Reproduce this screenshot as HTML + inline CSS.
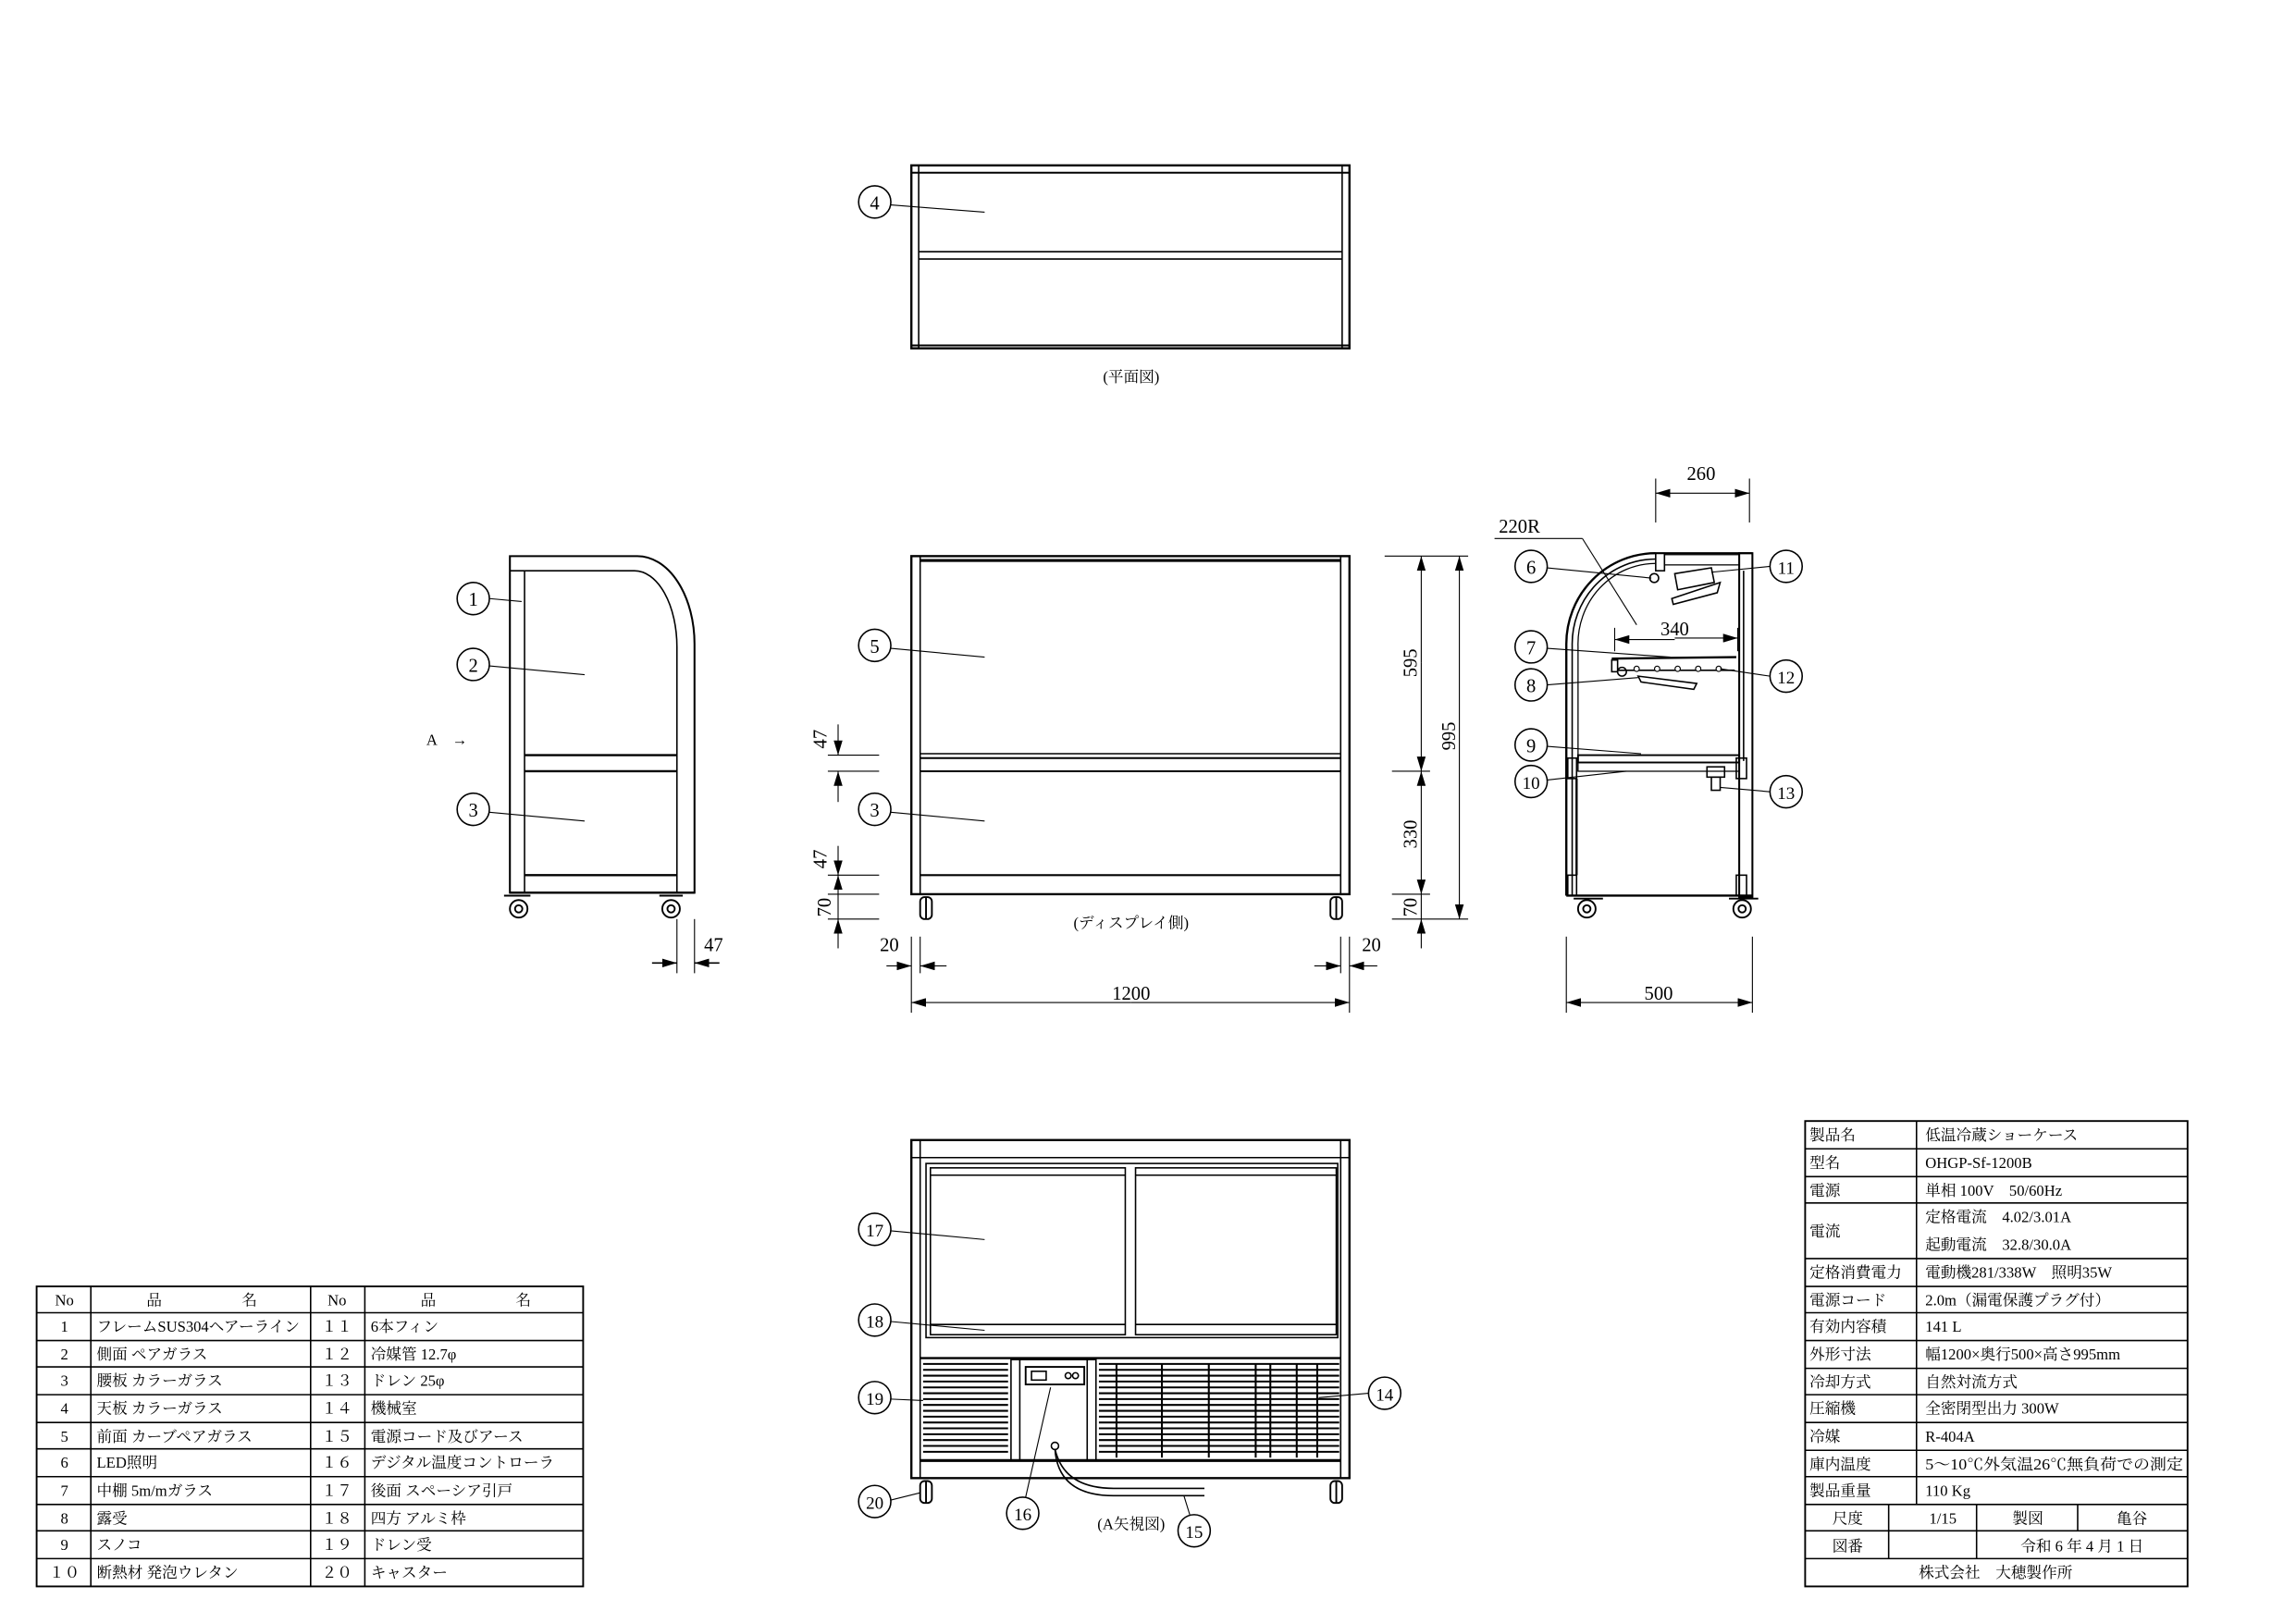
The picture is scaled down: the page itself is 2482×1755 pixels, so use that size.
<!DOCTYPE html>
<html><head><meta charset="utf-8"><style>
html,body{margin:0;padding:0;background:#fff}
svg{display:block}
text{font-family:"Liberation Serif","Noto Serif CJK JP",serif;fill:#000}
.t{font-size:10.5px}
.c{font-size:13px}
</style></head><body>
<svg width="2482" height="1755" viewBox="0 0 1567 1109" preserveAspectRatio="none" xmlns="http://www.w3.org/2000/svg">
<defs>
<marker id="a" viewBox="0 0 10 6" refX="10" refY="3" markerWidth="10" markerHeight="6" orient="auto-start-reverse" markerUnits="userSpaceOnUse"><path d="M0,0L10,3L0,6z" fill="#000"/></marker>
</defs>
<g fill="none" stroke="#000" stroke-width="1">
<!-- TOP VIEW -->
<rect x="622" y="113" width="299" height="125" stroke-width="1.5"/>
<line x1="622" y1="118" x2="921" y2="118" stroke-width="1.3"/>
<line x1="627" y1="113" x2="627" y2="238"/><line x1="916" y1="113" x2="916" y2="238"/>
<line x1="627" y1="172" x2="916" y2="172"/><line x1="627" y1="177" x2="916" y2="177"/>
<line x1="622" y1="236" x2="921" y2="236" stroke-width="1.3"/>
<circle cx="597" cy="138" r="11"/><line x1="608" y1="140" x2="672" y2="145" stroke-width=".7"/>

<!-- LEFT SIDE VIEW -->
<path d="M348,380 H435 A39,60 0 0 1 474,440 V610 H348 Z" stroke-width="1.3"/>
<path d="M358,390 H433 A29,52 0 0 1 462,442 V610" />
<line x1="358" y1="390" x2="358" y2="610"/>
<line x1="348" y1="390" x2="358" y2="390"/>
<line x1="358" y1="516" x2="462" y2="516" stroke-width="1.5"/>
<line x1="358" y1="527" x2="462" y2="527" stroke-width="1.5"/>
<line x1="358" y1="598" x2="462" y2="598" stroke-width="1.5"/>
<line x1="348" y1="610" x2="474" y2="610" stroke-width="1.5"/>
<circle cx="323" cy="409" r="11"/><line x1="334" y1="409" x2="356" y2="411" stroke-width=".7"/>
<circle cx="323" cy="454" r="11"/><line x1="334" y1="455" x2="399" y2="461" stroke-width=".7"/>
<circle cx="323" cy="553" r="11"/><line x1="334" y1="555" x2="399" y2="561" stroke-width=".7"/>
<line x1="462" y1="628" x2="462" y2="665" stroke-width=".7"/><line x1="474" y1="628" x2="474" y2="665" stroke-width=".7"/>
<line x1="445" y1="658" x2="462" y2="658" marker-end="url(#a)"/><line x1="491" y1="658" x2="474" y2="658" marker-end="url(#a)"/>

<!-- FRONT VIEW -->
<rect x="622" y="380" width="299" height="231" stroke-width="1.5"/>
<line x1="628" y1="380" x2="628" y2="611"/><line x1="915" y1="380" x2="915" y2="611"/>
<line x1="628" y1="383" x2="915" y2="383" stroke-width="2"/>
<line x1="628" y1="515" x2="915" y2="515"/><line x1="628" y1="518" x2="915" y2="518" stroke-width="1.3"/>
<line x1="628" y1="527" x2="915" y2="527" stroke-width="1.3"/>
<line x1="628" y1="598" x2="915" y2="598" stroke-width="1.3"/>
<circle cx="597" cy="441" r="11"/><line x1="608" y1="443" x2="672" y2="449" stroke-width=".7"/>
<circle cx="597" cy="553" r="11"/><line x1="608" y1="555" x2="672" y2="561" stroke-width=".7"/>
<g stroke-width=".7">
<line x1="565" y1="516" x2="600" y2="516"/><line x1="565" y1="527" x2="600" y2="527"/>
<line x1="572" y1="495" x2="572" y2="516" marker-end="url(#a)"/><line x1="572" y1="548" x2="572" y2="527" marker-end="url(#a)"/>
<line x1="565" y1="598" x2="600" y2="598"/><line x1="565" y1="611" x2="600" y2="611"/><line x1="565" y1="628" x2="600" y2="628"/>
<line x1="572" y1="578" x2="572" y2="598" marker-end="url(#a)"/><line x1="572" y1="611" x2="572" y2="598" marker-end="url(#a)"/>
<line x1="572" y1="648" x2="572" y2="628" marker-end="url(#a)"/><line x1="572" y1="611" x2="572" y2="628"/>
<line x1="945" y1="380" x2="1002" y2="380"/><line x1="950" y1="527" x2="976" y2="527"/>
<line x1="950" y1="611" x2="976" y2="611"/><line x1="950" y1="628" x2="1002" y2="628"/>
<line x1="970" y1="453" x2="970" y2="380" marker-end="url(#a)"/><line x1="970" y1="453" x2="970" y2="527" marker-end="url(#a)"/>
<line x1="970" y1="570" x2="970" y2="527" marker-end="url(#a)"/><line x1="970" y1="570" x2="970" y2="611" marker-end="url(#a)"/>
<line x1="970" y1="611" x2="970" y2="628"/><line x1="970" y1="648" x2="970" y2="628" marker-end="url(#a)"/>
<line x1="996" y1="503" x2="996" y2="380" marker-end="url(#a)"/><line x1="996" y1="503" x2="996" y2="628" marker-end="url(#a)"/>
<line x1="622" y1="640" x2="622" y2="692"/><line x1="628" y1="640" x2="628" y2="665"/>
<line x1="915" y1="640" x2="915" y2="665"/><line x1="921" y1="640" x2="921" y2="692"/>
<line x1="605" y1="660" x2="622" y2="660" marker-end="url(#a)"/><line x1="646" y1="660" x2="628" y2="660" marker-end="url(#a)"/>
<line x1="897" y1="660" x2="915" y2="660" marker-end="url(#a)"/><line x1="940" y1="660" x2="921" y2="660" marker-end="url(#a)"/>
<line x1="772" y1="685" x2="622" y2="685" marker-end="url(#a)"/><line x1="772" y1="685" x2="921" y2="685" marker-end="url(#a)"/>
</g>

<!-- RIGHT SIDE SECTION -->
<path d="M1069,612 V440 A61,62 0 0 1 1130,378" stroke-width="1.5"/>
<path d="M1073,612 V441 A57,58 0 0 1 1130,382" />
<path d="M1077,527 V442 A53,55 0 0 1 1130,385" stroke-width=".8"/>
<line x1="1130" y1="378" x2="1196" y2="378" stroke-width="1.3"/>
<rect x="1130" y="378" width="6" height="12"/>
<rect x="1136" y="379" width="51" height="7" stroke-width=".8"/>
<rect x="1187" y="378" width="9" height="235" stroke-width="1.3"/>
<line x1="1190" y1="390" x2="1190" y2="520"/>
<circle cx="1129" cy="395" r="3"/>
<polygon points="1143,392 1168,388 1170,398 1145,403"/>
<polygon points="1141,409 1174,398 1172,405 1142,413"/>
<line x1="1100" y1="450" x2="1185" y2="449" stroke-width="1.5"/>
<rect x="1100" y="451" width="4" height="8"/><circle cx="1107" cy="459" r="3"/>
<line x1="1104" y1="458" x2="1184" y2="458"/>
<polygon points="1118,462 1158,467 1156,471 1120,466"/>
<g fill="#fff" stroke-width=".7"><circle cx="1117" cy="457" r="1.8"/><circle cx="1131" cy="457" r="1.8"/><circle cx="1145" cy="457" r="1.8"/><circle cx="1159" cy="457" r="1.8"/><circle cx="1173" cy="457" r="1.8"/></g>
<rect x="1077" y="516" width="110" height="5" stroke-width="1.2"/>
<rect x="1077" y="521" width="110" height="6" stroke-width=".8"/>
<rect x="1070" y="518" width="6" height="14"/><rect x="1185" y="518" width="7" height="14"/>
<rect x="1165" y="524" width="12" height="7"/><rect x="1168" y="531" width="6" height="9"/>
<rect x="1070" y="598" width="6" height="14"/><rect x="1185" y="598" width="7" height="14"/>
<line x1="1069" y1="612" x2="1196" y2="612" stroke-width="1.5"/>
<line x1="1076" y1="532" x2="1076" y2="598" stroke-width="1.5"/>
<g stroke-width=".7">
<line x1="1130" y1="327" x2="1130" y2="357"/><line x1="1194" y1="327" x2="1194" y2="357"/>
<line x1="1162" y1="337" x2="1130" y2="337" marker-end="url(#a)"/><line x1="1162" y1="337" x2="1194" y2="337" marker-end="url(#a)"/>
<line x1="1020" y1="368" x2="1080" y2="368"/><line x1="1080" y1="368" x2="1117" y2="427"/>
<line x1="1102" y1="429" x2="1102" y2="445"/><line x1="1186" y1="429" x2="1186" y2="445"/>
<line x1="1143" y1="437" x2="1102" y2="437" marker-end="url(#a)"/><line x1="1143" y1="436" x2="1186" y2="436" marker-end="url(#a)"/>
<line x1="1069" y1="640" x2="1069" y2="692"/><line x1="1196" y1="640" x2="1196" y2="692"/>
<line x1="1132" y1="685" x2="1069" y2="685" marker-end="url(#a)"/><line x1="1132" y1="685" x2="1196" y2="685" marker-end="url(#a)"/>
<line x1="1056" y1="388" x2="1127" y2="395"/><line x1="1056" y1="443" x2="1140" y2="449"/>
<line x1="1056" y1="468" x2="1118" y2="463"/><line x1="1056" y1="510" x2="1120" y2="515"/>
<line x1="1056" y1="533" x2="1110" y2="527"/>
<line x1="1208" y1="387" x2="1168" y2="391"/><line x1="1208" y1="462" x2="1174" y2="457"/>
<line x1="1208" y1="541" x2="1174" y2="538"/>
</g>
<circle cx="1045" cy="387" r="11"/><circle cx="1045" cy="442" r="11"/><circle cx="1045" cy="468" r="11"/>
<circle cx="1045" cy="509" r="11"/><circle cx="1045" cy="534" r="11"/>
<circle cx="1219" cy="387" r="11"/><circle cx="1219" cy="462" r="11"/><circle cx="1219" cy="541" r="11"/>

<!-- casters -->
<g stroke-width="1.2">
<line x1="344" y1="612" x2="362" y2="612"/><circle cx="354" cy="621" r="6"/><circle cx="354" cy="621" r="2.5"/>
<line x1="450" y1="612" x2="466" y2="612"/><circle cx="458" cy="621" r="6"/><circle cx="458" cy="621" r="2.5"/>
<line x1="1074" y1="614" x2="1094" y2="614"/><circle cx="1083" cy="621" r="6"/><circle cx="1083" cy="621" r="2.5"/>
<line x1="1180" y1="614" x2="1200" y2="614"/><circle cx="1189" cy="621" r="6"/><circle cx="1189" cy="621" r="2.5"/>
<rect x="628" y="613" width="8" height="15" rx="3"/><line x1="632" y1="613" x2="632" y2="628"/>
<rect x="908" y="613" width="8" height="15" rx="3"/><line x1="912" y1="613" x2="912" y2="628"/>
<rect x="628" y="1012" width="8" height="15" rx="3"/><line x1="632" y1="1012" x2="632" y2="1027"/>
<rect x="908" y="1012" width="8" height="15" rx="3"/><line x1="912" y1="1012" x2="912" y2="1027"/>
</g>

<!-- REAR VIEW -->
<rect x="622" y="779" width="299" height="231" stroke-width="1.5"/>
<line x1="628" y1="779" x2="628" y2="1010"/><line x1="915" y1="779" x2="915" y2="1010"/>
<line x1="622" y1="791" x2="921" y2="791"/>
<rect x="632" y="795" width="281" height="119"/>
<rect x="635" y="798" width="133" height="114"/><rect x="775" y="798" width="137" height="114"/>
<line x1="635" y1="803" x2="768" y2="803"/><line x1="775" y1="803" x2="912" y2="803"/>
<line x1="635" y1="905" x2="768" y2="905"/><line x1="775" y1="905" x2="912" y2="905"/>
<line x1="628" y1="928" x2="915" y2="928" stroke-width="1.5"/>
<line x1="628" y1="998" x2="915" y2="998" stroke-width="2"/>
<rect x="690" y="929" width="58" height="69"/>
<line x1="696" y1="929" x2="696" y2="998"/><line x1="742" y1="929" x2="742" y2="998"/>
<rect x="700" y="934" width="40" height="12" stroke-width="1.2"/>
<rect x="704" y="937" width="10" height="6"/><circle cx="729" cy="940" r="2"/><circle cx="734" cy="940" r="2"/>
<circle cx="720" cy="988" r="2.5"/>
<path d="M720,990 Q726,1017 760,1017 H822" /><path d="M720,990 Q722,1022 760,1022 H822"/>
<g stroke-width="1.3">
<line x1="630" y1="932" x2="688" y2="932"/><line x1="630" y1="936" x2="688" y2="936"/><line x1="630" y1="940" x2="688" y2="940"/><line x1="630" y1="944" x2="688" y2="944"/><line x1="630" y1="948" x2="688" y2="948"/><line x1="630" y1="952" x2="688" y2="952"/><line x1="630" y1="956" x2="688" y2="956"/><line x1="630" y1="960" x2="688" y2="960"/><line x1="630" y1="964" x2="688" y2="964"/><line x1="630" y1="968" x2="688" y2="968"/><line x1="630" y1="972" x2="688" y2="972"/><line x1="630" y1="976" x2="688" y2="976"/><line x1="630" y1="980" x2="688" y2="980"/><line x1="630" y1="984" x2="688" y2="984"/><line x1="630" y1="988" x2="688" y2="988"/><line x1="630" y1="992" x2="688" y2="992"/>
<line x1="750" y1="932" x2="914" y2="932"/><line x1="750" y1="936" x2="914" y2="936"/><line x1="750" y1="940" x2="914" y2="940"/><line x1="750" y1="944" x2="914" y2="944"/><line x1="750" y1="948" x2="914" y2="948"/><line x1="750" y1="952" x2="914" y2="952"/><line x1="750" y1="956" x2="914" y2="956"/><line x1="750" y1="960" x2="914" y2="960"/><line x1="750" y1="964" x2="914" y2="964"/><line x1="750" y1="968" x2="914" y2="968"/><line x1="750" y1="972" x2="914" y2="972"/><line x1="750" y1="976" x2="914" y2="976"/><line x1="750" y1="980" x2="914" y2="980"/><line x1="750" y1="984" x2="914" y2="984"/><line x1="750" y1="988" x2="914" y2="988"/><line x1="750" y1="992" x2="914" y2="992"/>
<line x1="762" y1="932" x2="762" y2="996"/><line x1="793" y1="932" x2="793" y2="996"/><line x1="825" y1="932" x2="825" y2="996"/><line x1="857" y1="932" x2="857" y2="996"/><line x1="867" y1="932" x2="867" y2="996"/><line x1="885" y1="932" x2="885" y2="996"/><line x1="899" y1="932" x2="899" y2="996"/>
</g>
<g stroke-width=".7">
<line x1="608" y1="841" x2="672" y2="847"/><line x1="608" y1="903" x2="672" y2="909"/>
<line x1="608" y1="956" x2="630" y2="957"/><line x1="608" y1="1025" x2="628" y2="1020"/>
<line x1="700" y1="1023" x2="717" y2="948"/><line x1="812" y1="1035" x2="808" y2="1022"/>
<line x1="934" y1="952" x2="900" y2="955"/>
</g>
<circle cx="597" cy="840" r="11"/><circle cx="597" cy="902" r="11"/><circle cx="597" cy="955" r="11"/>
<circle cx="597" cy="1026" r="11"/><circle cx="698" cy="1034" r="11"/><circle cx="815" cy="1046" r="11"/>
<circle cx="945" cy="952" r="11"/>

<!-- LEFT TABLE -->
<rect x="25" y="879" width="373" height="205" stroke-width="1.2"/>
<line x1="62" y1="879" x2="62" y2="1084"/><line x1="212" y1="879" x2="212" y2="1084"/><line x1="249" y1="879" x2="249" y2="1084"/>
<line x1="25" y1="897" x2="398" y2="897"/><line x1="25" y1="916" x2="398" y2="916"/><line x1="25" y1="934" x2="398" y2="934"/><line x1="25" y1="953" x2="398" y2="953"/><line x1="25" y1="972" x2="398" y2="972"/><line x1="25" y1="990" x2="398" y2="990"/><line x1="25" y1="1009" x2="398" y2="1009"/><line x1="25" y1="1028" x2="398" y2="1028"/><line x1="25" y1="1046" x2="398" y2="1046"/><line x1="25" y1="1065" x2="398" y2="1065"/>

<!-- RIGHT TABLE -->
<rect x="1232" y="766" width="261" height="318" stroke-width="1.2"/>
<line x1="1308" y1="766" x2="1308" y2="1028"/>
<line x1="1232" y1="785" x2="1493" y2="785"/><line x1="1232" y1="804" x2="1493" y2="804"/><line x1="1232" y1="822" x2="1493" y2="822"/><line x1="1232" y1="860" x2="1493" y2="860"/><line x1="1232" y1="879" x2="1493" y2="879"/><line x1="1232" y1="897" x2="1493" y2="897"/><line x1="1232" y1="916" x2="1493" y2="916"/><line x1="1232" y1="935" x2="1493" y2="935"/><line x1="1232" y1="953" x2="1493" y2="953"/><line x1="1232" y1="972" x2="1493" y2="972"/><line x1="1232" y1="991" x2="1493" y2="991"/><line x1="1232" y1="1009" x2="1493" y2="1009"/><line x1="1232" y1="1028" x2="1493" y2="1028"/><line x1="1232" y1="1046" x2="1493" y2="1046"/><line x1="1232" y1="1065" x2="1493" y2="1065"/>
<line x1="1289" y1="1028" x2="1289" y2="1065"/><line x1="1349" y1="1028" x2="1349" y2="1065"/><line x1="1418" y1="1028" x2="1418" y2="1046"/>
</g>

<!-- TEXT -->
<g class="c" text-anchor="middle">
<text x="597" y="143">4</text>
<text x="323" y="414">1</text><text x="323" y="459">2</text><text x="323" y="558">3</text>
<text x="597" y="446">5</text><text x="597" y="558">3</text>
<text x="1045" y="392">6</text><text x="1045" y="447">7</text><text x="1045" y="473">8</text><text x="1045" y="514">9</text><text x="1045" y="539" font-size="12">10</text>
<text x="1219" y="392" font-size="12">11</text><text x="1219" y="467" font-size="12">12</text><text x="1219" y="546" font-size="12">13</text>
<text x="597" y="845" font-size="12">17</text><text x="597" y="907" font-size="12">18</text><text x="597" y="960" font-size="12">19</text>
<text x="597" y="1031" font-size="12">20</text><text x="698" y="1039" font-size="12">16</text><text x="815" y="1051" font-size="12">15</text>
<text x="945" y="957" font-size="12">14</text>
<text x="487" y="650">47</text><text x="607" y="650">20</text><text x="936" y="650">20</text>
<text x="772" y="683">1200</text><text x="1132" y="683">500</text><text x="1161" y="328">260</text><text x="1143" y="434">340</text>
<text x="1037" y="364">220R</text>
</g>
<g class="c" text-anchor="middle">
<text transform="translate(967,453) rotate(-90)">595</text>
<text transform="translate(967,570) rotate(-90)">330</text>
<text transform="translate(967,620) rotate(-90)">70</text>
<text transform="translate(993,503) rotate(-90)">995</text>
<text transform="translate(564,505) rotate(-90)">47</text>
<text transform="translate(564,587) rotate(-90)">47</text>
<text transform="translate(567,620) rotate(-90)">70</text>
</g>
<g class="t" text-anchor="middle">
<text x="772" y="261">(平面図)</text>
<text x="772" y="634">(ディスプレイ側)</text>
<text x="772" y="1045">(A矢視図)</text>
</g>
<text x="291" y="509" class="t">A　→</text>

<g class="t">
<text x="44" y="892" text-anchor="middle">No</text><text x="230" y="892" text-anchor="middle">No</text>
<text x="100" y="892">品</text><text x="165" y="892">名</text><text x="287" y="892">品</text><text x="352" y="892">名</text>
<g text-anchor="middle">
<text x="44" y="910">1</text><text x="44" y="929">2</text><text x="44" y="947">3</text><text x="44" y="966">4</text><text x="44" y="985">5</text><text x="44" y="1003">6</text><text x="44" y="1022">7</text><text x="44" y="1041">8</text><text x="44" y="1059">9</text><text x="44" y="1078">１０</text>
<text x="230" y="910">１１</text><text x="230" y="929">１２</text><text x="230" y="947">１３</text><text x="230" y="966">１４</text><text x="230" y="985">１５</text><text x="230" y="1003">１６</text><text x="230" y="1022">１７</text><text x="230" y="1041">１８</text><text x="230" y="1059">１９</text><text x="230" y="1078">２０</text>
</g>
<text x="66" y="910">フレームSUS304ヘアーライン</text>
<text x="66" y="929">側面 ペアガラス</text>
<text x="66" y="947">腰板 カラーガラス</text>
<text x="66" y="966">天板 カラーガラス</text>
<text x="66" y="985">前面 カーブペアガラス</text>
<text x="66" y="1003">LED照明</text>
<text x="66" y="1022">中棚 5m/mガラス</text>
<text x="66" y="1041">露受</text>
<text x="66" y="1059">スノコ</text>
<text x="66" y="1078">断熱材 発泡ウレタン</text>
<text x="253" y="910">6本フィン</text>
<text x="253" y="929">冷媒管 12.7φ</text>
<text x="253" y="947">ドレン 25φ</text>
<text x="253" y="966">機械室</text>
<text x="253" y="985">電源コード及びアース</text>
<text x="253" y="1003">デジタル温度コントローラ</text>
<text x="253" y="1022">後面 スペーシア引戸</text>
<text x="253" y="1041">四方 アルミ枠</text>
<text x="253" y="1059">ドレン受</text>
<text x="253" y="1078">キャスター</text>

<text x="1235" y="779">製品名</text><text x="1314" y="779">低温冷蔵ショーケース</text>
<text x="1235" y="798">型名</text><text x="1314" y="798">OHGP-Sf-1200B</text>
<text x="1235" y="817">電源</text><text x="1314" y="817">単相 100V　50/60Hz</text>
<text x="1235" y="845">電流</text><text x="1314" y="835">定格電流　4.02/3.01A</text><text x="1314" y="854">起動電流　32.8/30.0A</text>
<text x="1235" y="873">定格消費電力</text><text x="1314" y="873">電動機281/338W　照明35W</text>
<text x="1235" y="892">電源コード</text><text x="1314" y="892">2.0m（漏電保護プラグ付）</text>
<text x="1235" y="910">有効内容積</text><text x="1314" y="910">141 L</text>
<text x="1235" y="929">外形寸法</text><text x="1314" y="929">幅1200×奥行500×高さ995mm</text>
<text x="1235" y="948">冷却方式</text><text x="1314" y="948">自然対流方式</text>
<text x="1235" y="966">圧縮機</text><text x="1314" y="966">全密閉型出力 300W</text>
<text x="1235" y="985">冷媒</text><text x="1314" y="985">R-404A</text>
<text x="1235" y="1004">庫内温度</text><text x="1314" y="1004" textLength="176" lengthAdjust="spacingAndGlyphs">5～10℃外気温26℃無負荷での測定</text>
<text x="1235" y="1022">製品重量</text><text x="1314" y="1022">110 Kg</text>
<g text-anchor="middle">
<text x="1261" y="1041">尺度</text><text x="1326" y="1041">1/15</text><text x="1384" y="1041">製図</text><text x="1455" y="1041">亀谷</text>
<text x="1261" y="1060">図番</text><text x="1421" y="1060">令和 6 年 4 月 1 日</text>
<text x="1362" y="1078">株式会社　大穂製作所</text>
</g>
</g>
</svg>
</body></html>
